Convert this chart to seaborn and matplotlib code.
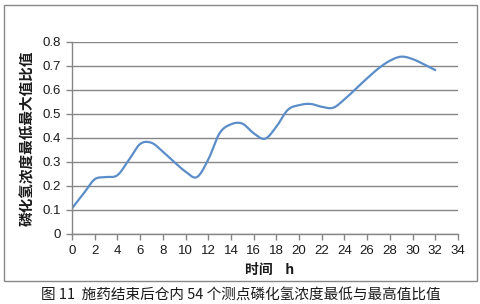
import numpy as np
import pandas as pd
import seaborn as sns
import matplotlib
matplotlib.use("Agg")
import matplotlib.pyplot as plt
from matplotlib.patches import Rectangle

# Data
hours = [0, 1, 2, 3, 4, 5, 6, 7, 8, 9, 10, 11, 12, 13, 14, 15, 16,
         17, 18, 19, 20, 21, 22, 23, 24, 25, 26, 27, 28, 29, 30, 31, 32]
ratio = [0.107, 0.167, 0.228, 0.237, 0.245, 0.308, 0.375, 0.380, 0.343,
         0.300, 0.260, 0.237, 0.310, 0.420, 0.457, 0.460, 0.420, 0.397,
         0.447, 0.517, 0.537, 0.542, 0.530, 0.526, 0.561, 0.605, 0.649,
         0.690, 0.722, 0.739, 0.729, 0.707, 0.683]
x_ticks = list(range(0, 35, 2))
y_ticks = [0, 0.1, 0.2, 0.3, 0.4, 0.5, 0.6, 0.7, 0.8]
y_tick_labels = ["0", "0.1", "0.2", "0.3", "0.4", "0.5", "0.6", "0.7", "0.8"]
x_label = "时间    h"
y_label = "磷化氢浓度最低最大值比值"
caption = "图 11  施药结束后仓内 54 个测点磷化氢浓度最低与最高值比值"


def smooth(xs, ys, n=30):
    """Excel-style smoothed line (Catmull-Rom Bezier) through the points."""
    xs = np.asarray(xs, float)
    ys = np.asarray(ys, float)
    P = np.column_stack([xs, ys])
    out = []
    m = len(P)
    for i in range(m - 1):
        p0 = P[max(i - 1, 0)]
        p1 = P[i]
        p2 = P[i + 1]
        p3 = P[min(i + 2, m - 1)]
        c1 = p1 + (p2 - p0) / 6.0
        c2 = p2 - (p3 - p1) / 6.0
        t = np.linspace(0, 1, n, endpoint=(i == m - 2))[:, None]
        seg = ((1 - t) ** 3) * p1 + 3 * ((1 - t) ** 2) * t * c1 + \
            3 * (1 - t) * t ** 2 * c2 + t ** 3 * p2
        out.append(seg)
    out = np.vstack(out)
    return out[:, 0], out[:, 1]


sx, sy = smooth(hours, ratio)
df = pd.DataFrame({"t": sx, "v": sy})

sns.set_theme(style="white")
plt.rcParams["font.family"] = ["Liberation Sans", "Noto Sans CJK SC", "DejaVu Sans"]

fig = plt.figure(figsize=(4.81, 3.04), dpi=100)
ax = fig.add_axes([72 / 481, 1 - 234 / 304, (458 - 72) / 481, (234 - 42) / 304])

sns.lineplot(data=df, x="t", y="v", ax=ax, color="#5B8DC8", linewidth=1.6,
             sort=False, estimator=None)

grid_c = "#868686"
ax.set_xlim(0, 34)
ax.set_ylim(0, 0.8)
ax.set_xticks(x_ticks)
ax.set_xticklabels([str(v) for v in x_ticks], fontsize=9.5, color="#1a1a1a")
ax.set_yticks(y_ticks)
ax.set_yticklabels(y_tick_labels, fontsize=9.5, color="#1a1a1a")
ax.yaxis.grid(True, color=grid_c, linewidth=1)
ax.xaxis.grid(False)
ax.set_axisbelow(True)
for s in ["top", "right"]:
    ax.spines[s].set_visible(False)
for s in ["left", "bottom"]:
    ax.spines[s].set_color(grid_c)
    ax.spines[s].set_linewidth(1)
ax.tick_params(axis="both", which="major", direction="out", length=4,
               width=1, color=grid_c, pad=4, bottom=True, left=True)

ax.set_xlabel("")
ax.set_ylabel("")
fig.text(270 / 481, 1 - 270 / 304, x_label, ha="center", va="center",
         fontsize=10, fontweight="bold",
         family=["Noto Sans CJK SC", "DejaVu Sans"], color="#1a1a1a")
fig.text(27 / 481, 1 - 138 / 304, y_label, ha="center", va="center",
         rotation=90, fontsize=10.5, fontweight="bold",
         family=["Noto Sans CJK SC", "DejaVu Sans"], color="#1a1a1a")
fig.text(241 / 481, 1 - 295 / 304, caption, ha="center", va="center",
         fontsize=10.5, family=["Noto Sans CJK SC", "DejaVu Sans"],
         color="#1a1a1a")

frame = Rectangle((4 / 481, 1 - 281 / 304), (477 - 4) / 481, (281 - 5) / 304,
                  transform=fig.transFigure, fill=False, edgecolor="#888888",
                  linewidth=1)
fig.patches.append(frame)

fig.savefig("out.png", dpi=100)
